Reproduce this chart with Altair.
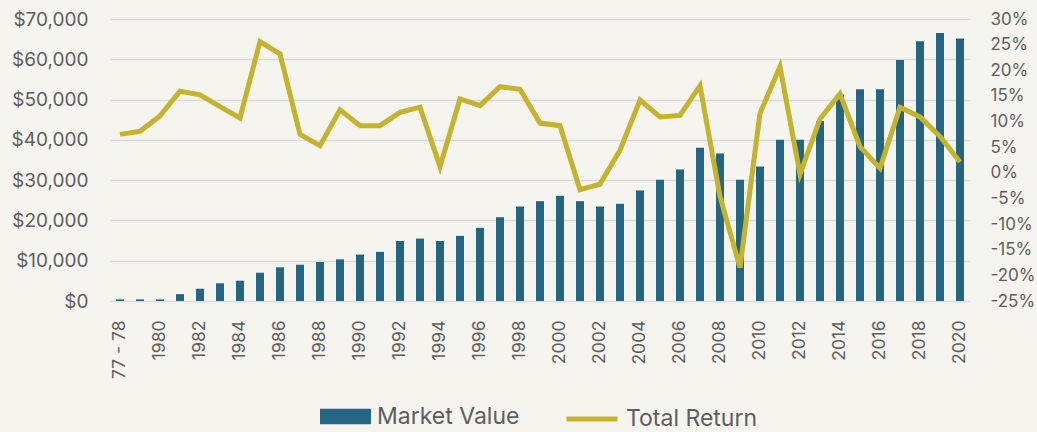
import altair as alt
import pandas as pd

categories = ["77 - 78"] + [str(y) for y in range(1979, 2021)]
market_value = [400, 400, 400, 1700, 3050, 4400, 5040, 7020, 8360, 9000, 9680, 10350,
                11520, 12200, 14900, 15500, 14900, 16170, 18160, 20800, 23460, 24780,
                26120, 24780, 23460, 24130, 27440, 30100, 32660,
                38060, 36640, 30100, 33400, 40050, 40050, 44680, 51240, 52560, 52560,
                59850, 64500, 66500, 65170]
total_return = [7.5, 8.1, 11.1, 15.9, 15.2, 12.9, 10.7, 25.6, 23.2, 7.5, 5.3, 12.3,
                9.2, 9.2, 11.8, 12.8, 1.2, 14.4, 13.1, 16.8, 16.3, 9.7, 9.2, -3.3, -2.2,
                4.4, 14.2, 10.9, 11.2,
                17.0, -4.6, -18.5, 11.6, 20.7, -0.3, 10.5, 15.4, 5.1, 0.9, 12.8, 10.9, 7.1, 2.1]
shown_labels = categories[0::2]
left_ticks = [0, 10000, 20000, 30000, 40000, 50000, 60000, 70000]
right_ticks = [-25, -20, -15, -10, -5, 0, 5, 10, 15, 20, 25, 30]

BLUE = "#246682"
GOLD = "#C5B22F"
TEXT = "#5E5E5E"
GRID = "#D9D9D9"
BG = "#F5F4EF"
FONT = "Inter"

df = pd.DataFrame({
    "cat": categories,
    "mv": market_value,
    "tr": total_return,
    "s1": ["Market Value"] * len(categories),
    "s2": ["Total Return"] * len(categories),
})

x = alt.X("cat:N", sort=categories, title=None,
          scale=alt.Scale(paddingInner=0.6, paddingOuter=0.3),
          axis=alt.Axis(values=shown_labels, labelAngle=270, ticks=False,
                        domain=False, labelPadding=19, labelFontSize=17.5,
                        labelColor=TEXT, labelFont=FONT, grid=False))

bars = alt.Chart(df).mark_bar(color=BLUE).encode(
    x=x,
    y=alt.Y("mv:Q", title=None, scale=alt.Scale(domain=[0, 70000], nice=False),
            axis=alt.Axis(values=left_ticks, format="$,.0f", ticks=False, domain=False,
                          labelPadding=22, labelFontSize=19, labelColor=TEXT,
                          labelFont=FONT, grid=True, gridColor=GRID, gridWidth=1.5)),
    fill=alt.Fill("s1:N", scale=alt.Scale(domain=["Market Value"], range=[BLUE]),
                  legend=alt.Legend(orient="none", legendX=210, legendY=372, title=None,
                                    symbolType="M-1,-0.3H1V0.3H-1Z", symbolSize=2601,
                                    symbolStrokeWidth=0, labelFontSize=23,
                                    labelColor=TEXT, labelFont=FONT, labelOffset=6)),
)

line = alt.Chart(df).mark_line(strokeWidth=5, strokeJoin="miter").encode(
    x=x,
    y=alt.Y("tr:Q", title=None, scale=alt.Scale(domain=[-25, 30], nice=False),
            axis=alt.Axis(orient="right", values=right_ticks, labelExpr="datum.value + '%'",
                          ticks=False, domain=False, labelPadding=20, labelFontSize=17,
                          labelColor=TEXT, labelFont=FONT, grid=False)),
    stroke=alt.Stroke("s2:N", scale=alt.Scale(domain=["Total Return"], range=[GOLD]),
                      legend=alt.Legend(orient="none", legendX=454, legendY=372, title=None,
                                        symbolType="stroke", symbolSize=2601,
                                        symbolStrokeWidth=5, labelFontSize=23,
                                        labelColor=TEXT, labelFont=FONT, labelOffset=6)),
)

chart = alt.layer(bars, line).resolve_scale(y="independent", fill="independent",
                                            stroke="independent").properties(
    width=860, height=282,
    autosize=alt.AutoSizeParams(type="none"),
    padding={"left": 110, "top": 19, "right": 67, "bottom": 131},
    background=BG,
).configure_view(strokeWidth=0)

chart.save("out.html", embed_options={"renderer": "svg", "actions": False})
